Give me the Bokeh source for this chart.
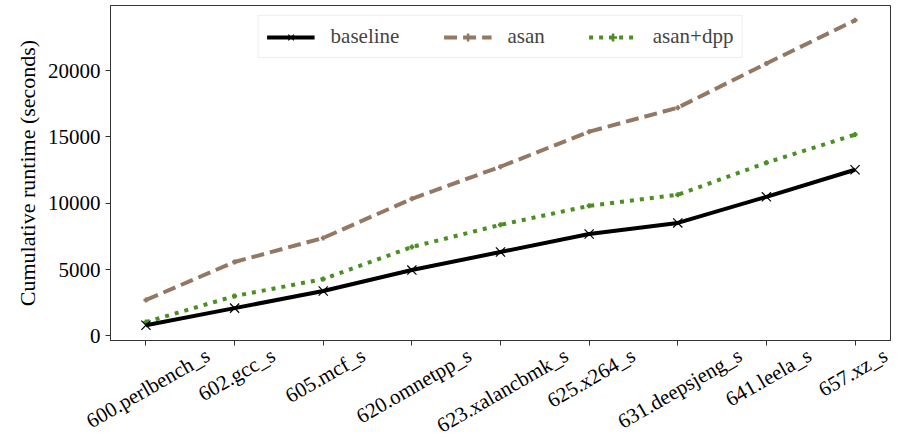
import math
from bokeh.plotting import figure
from bokeh.models import Range1d, FixedTicker, Legend, LegendItem, LinearAxis
from bokeh.embed import file_html
from bokeh.resources import INLINE

benchmarks = ["600.perlbench_s", "602.gcc_s", "605.mcf_s", "620.omnetpp_s",
              "623.xalancbmk_s", "625.x264_s", "631.deepsjeng_s", "641.leela_s", "657.xz_s"]
baseline = [800, 2090, 3380, 4960, 6320, 7680, 8510, 10480, 12520]
asan = [2700, 5570, 7380, 10330, 12750, 15390, 17200, 20530, 23780]
asan_dpp = [1040, 3000, 4280, 6700, 8370, 9800, 10630, 13050, 15170]
y_ticks = [0, 5000, 10000, 15000, 20000]

xs = list(range(len(benchmarks)))
FONT = "Liberation Serif"
BROWN = "#937864"
GREEN = "#4b8f23"
TICK_PX = 21
ROT = math.pi / 6
FRAME_W = 780
X0, X1 = -0.4, len(benchmarks) - 0.6

# Times-metric glyph widths (per 1000 em), used only to centre rotated labels on their ticks
_W = dict(zip("abcdefghijklmnopqrstuvwxyz",
              [444, 500, 444, 500, 444, 333, 500, 500, 278, 278, 500, 278, 778,
               500, 500, 500, 500, 333, 389, 278, 500, 500, 722, 500, 500, 444]))
_W.update({d: 500 for d in "0123456789"})
_W.update({".": 250, "_": 500})


def text_len(s, px):
    return sum(_W.get(c, 500) for c in s) / 1000.0 * px


p = figure(width=891, height=425, output_backend="svg", toolbar_location=None,
           x_range=Range1d(X0, X1), y_range=Range1d(-350, 24900),
           min_border_left=110, min_border_right=1, min_border_top=5, min_border_bottom=0,
           frame_width=FRAME_W, frame_height=335)
p.grid.visible = False
p.outline_line_color = "#333333"
p.outline_line_width = 1

r_asan = p.line(xs, asan, line_color=BROWN, line_width=4, line_dash="13 6")
r_asan_m = p.scatter(xs, asan, marker="cross", size=5,
                     line_color=BROWN, line_width=2.5)
r_dpp = p.line(xs, asan_dpp, line_color=GREEN, line_width=4, line_dash="4 6")
r_dpp_m = p.scatter(xs, asan_dpp, marker="cross", size=5,
                    line_color=GREEN, line_width=2.5)
r_base = p.line(xs, baseline, line_color="black", line_width=4)
r_base_m = p.scatter(xs, baseline, marker="x", size=13, line_color="black", line_width=1.2)

# tick marks only (labels are drawn by the second axis below)
p.xaxis.ticker = FixedTicker(ticks=xs)
p.xaxis.major_label_overrides = {i: "" for i in xs}
p.xaxis.major_label_text_font_size = "2px"
p.xaxis.major_label_standoff = 0
p.yaxis.ticker = FixedTicker(ticks=y_ticks)
p.yaxis.axis_label = "Cumulative runtime (seconds)"
for ax in (p.xaxis, p.yaxis):
    ax.minor_tick_line_color = None
    ax.major_tick_in = 0
    ax.major_tick_out = 5
    ax.major_tick_line_color = "#333333"
    ax.axis_line_color = "#333333"
    ax.major_label_text_font = FONT
    ax.major_label_text_color = "black"
    ax.axis_label_text_font = FONT
    ax.axis_label_text_font_size = "22px"
    ax.axis_label_text_font_style = "normal"
    ax.axis_label_text_color = "black"
p.yaxis.major_label_text_font_size = f"{TICK_PX}px"

# rotated category labels, centred on their ticks (matplotlib-style)
px_per_unit = FRAME_W / (X1 - X0)
label_pos = [round(min(i + (text_len(b, TICK_PX) * math.cos(ROT) / 2 + 2) / px_per_unit,
                       X1 - 0.002), 4)
             for i, b in zip(xs, benchmarks)]
lab_axis = LinearAxis(ticker=FixedTicker(ticks=label_pos),
                      major_label_overrides={t: b for t, b in zip(label_pos, benchmarks)},
                      major_label_orientation=ROT, major_label_standoff=8,
                      major_label_text_font=FONT, major_label_text_font_size=f"{TICK_PX}px",
                      major_label_text_color="black",
                      axis_line_color=None, major_tick_line_color=None,
                      minor_tick_line_color=None, major_tick_out=0, major_tick_in=0)
p.add_layout(lab_axis, "below")

legend = Legend(items=[
    LegendItem(label="baseline", renderers=[r_base, r_base_m]),
    LegendItem(label="asan", renderers=[r_asan, r_asan_m]),
    LegendItem(label="asan+dpp", renderers=[r_dpp, r_dpp_m]),
], orientation="horizontal", location="top_center")
legend.label_text_font = FONT
legend.label_text_font_size = "21px"
legend.glyph_width = 48
legend.label_standoff = 16
legend.spacing = 44
legend.padding = 8
legend.margin = 10
legend.border_line_color = "#dddddd"
legend.border_line_width = 1
legend.background_fill_alpha = 0.9
p.add_layout(legend, "center")

open("out.html", "w").write(file_html(p, INLINE))
